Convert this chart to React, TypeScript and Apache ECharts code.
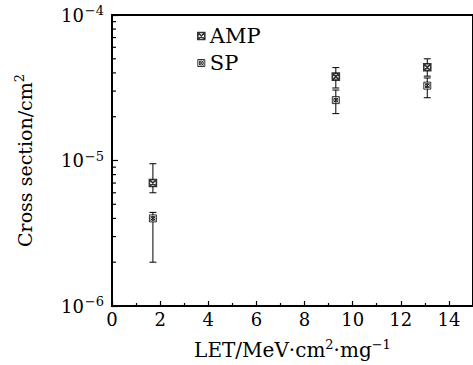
import React, { useEffect, useRef } from "react";
import * as echarts from "echarts";

// LET (MeV·cm²/mg) of each test point
const letValues = [1.7, 9.3, 13.1];
// cross sections (cm²)
const ampValues = [7.0e-6, 3.77e-5, 4.37e-5];
const spValues = [4.0e-6, 2.6e-5, 3.27e-5];
// error bar ranges
const ampLow = [6.0e-6, 3.15e-5, 3.8e-5];
const ampHigh = [9.5e-6, 4.35e-5, 5.0e-5];
const spLow = [2.0e-6, 2.1e-5, 2.7e-5];
const spHigh = [4.4e-6, 3.05e-5, 3.69e-5];
// log minor tick positions on the y axis
const yMinorTicks = [
  2e-6, 3e-6, 4e-6, 5e-6, 6e-6, 7e-6, 8e-6, 9e-6,
  2e-5, 3e-5, 4e-5, 5e-5, 6e-5, 7e-5, 8e-5, 9e-5,
];

const FONT = "'DejaVu Serif', serif";
const AMP_SYMBOL = "path://M0,0L10,0L10,10L0,10Z M0,0L10,10 M10,0L0,10";
const SP_SYMBOL =
  "path://M0,0L10,0L10,10L0,10Z M2,5A3,3 0 1,0 8,5A3,3 0 1,0 2,5 M1.5,1.5L8.5,8.5 M8.5,1.5L1.5,8.5";

function errorRender(params: any, api: any) {
  const x = api.value(0);
  const lo = api.value(1);
  const hi = api.value(2);
  const pHi = api.coord([x, hi]);
  const pLo = api.coord([x, lo]);
  const hw = 3.5;
  const style = { stroke: "#000", lineWidth: 1 };
  return {
    type: "group",
    children: [
      { type: "line", shape: { x1: pHi[0], y1: pHi[1], x2: pLo[0], y2: pLo[1] }, style },
      { type: "line", shape: { x1: pHi[0] - hw, y1: pHi[1], x2: pHi[0] + hw, y2: pHi[1] }, style },
      { type: "line", shape: { x1: pLo[0] - hw, y1: pLo[1], x2: pLo[0] + hw, y2: pLo[1] }, style },
    ],
  };
}

export default function App() {
  const ref = useRef<HTMLDivElement>(null);
  useEffect(() => {
    document.body.style.margin = "0";
    const chart = echarts.init(ref.current!, null, { renderer: "svg" });
    const ampErr = letValues.map((x, i) => [x, ampLow[i], ampHigh[i]]);
    const spErr = letValues.map((x, i) => [x, spLow[i], spHigh[i]]);
    const xNameRich = {
      b: { fontFamily: FONT, fontSize: 20, color: "#000", lineHeight: 24 },
      s: { fontFamily: FONT, fontSize: 13, color: "#000", verticalAlign: "top", lineHeight: 13, padding: [0, 0, 8, 0] },
    };
    const yNameRich = {
      b: { fontFamily: FONT, fontSize: 19, color: "#000", lineHeight: 23 },
      s: { fontFamily: FONT, fontSize: 13, color: "#000", verticalAlign: "top", lineHeight: 13, padding: [0, 0, 8, 0] },
    };
    const tickRich = {
      b: { fontFamily: FONT, fontSize: 18, color: "#000", lineHeight: 22 },
      s: { fontFamily: FONT, fontSize: 13, color: "#000", verticalAlign: "top", lineHeight: 13, padding: [0, 0, 9, 1] },
    };
    chart.setOption({
      animation: false,
      backgroundColor: "#fff",
      textStyle: { fontFamily: FONT },
      grid: {
        left: 112,
        top: 15,
        width: 363,
        height: 291,
        show: true,
        borderColor: "#000",
        borderWidth: 2,
        backgroundColor: "transparent",
      },
      legend: {
        orient: "vertical",
        left: 192,
        top: 19,
        itemWidth: 7,
        itemHeight: 7,
        itemGap: 3,
        textStyle: { fontFamily: FONT, fontSize: 21, color: "#000", lineHeight: 24 },
        data: [
          { name: "AMP", icon: AMP_SYMBOL, itemStyle: { color: "#fff", borderColor: "#000", borderWidth: 1.6 } },
          { name: "SP", icon: SP_SYMBOL, itemStyle: { color: "#fff", borderColor: "#000", borderWidth: 1 } },
        ],
      },
      xAxis: {
        type: "value",
        min: 0,
        max: 15,
        interval: 2,
        name: "{b|LET/MeV·cm}{s|2}{b|·mg}{s|−1}",
        nameLocation: "middle",
        nameGap: 32,
        nameTextStyle: { rich: xNameRich, fontFamily: FONT, fontSize: 20, color: "#000" },
        axisLine: { show: true, lineStyle: { color: "#000", width: 2 } },
        axisTick: { show: true, inside: true, length: 5, lineStyle: { color: "#000", width: 1.2 } },
        minorTick: { show: true, splitNumber: 2, length: 3, lineStyle: { color: "#000", width: 1.2 } },
        splitLine: { show: false },
        axisLabel: {
          fontFamily: FONT,
          fontSize: 18,
          color: "#000",
          margin: 4,
          showMaxLabel: false,
          formatter: (v: number) => (v % 2 === 0 && v <= 14 ? String(v) : ""),
        },
      },
      yAxis: {
        type: "log",
        logBase: 10,
        min: 1e-6,
        max: 1e-4,
        name: "{b|Cross section/cm}{s|2}",
        nameLocation: "middle",
        nameGap: 76,
        nameRotate: 90,
        nameTextStyle: { rich: yNameRich, fontFamily: FONT, fontSize: 19, color: "#000" },
        axisLine: { show: true, lineStyle: { color: "#000", width: 2 } },
        axisTick: { show: true, inside: true, length: 6, lineStyle: { color: "#000", width: 1.2 } },
        splitLine: { show: false },
        axisLabel: {
          margin: 8,
          formatter: (v: number) => `{b|10}{s|−${Math.round(-Math.log10(v))}}`,
          rich: tickRich,
        },
      },
      series: [
        {
          type: "custom",
          name: "yminor",
          silent: true,
          clip: false,
          data: yMinorTicks.map((v) => [0, v]),
          encode: { x: 0, y: 1 },
          renderItem: (params: any, api: any) => {
            const p = api.coord([0, api.value(1)]);
            return {
              type: "line",
              shape: { x1: p[0], y1: p[1], x2: p[0] + 4, y2: p[1] },
              style: { stroke: "#000", lineWidth: 1.2 },
            };
          },
        },
        { type: "custom", name: "ampErr", silent: true, data: ampErr, encode: { x: 0, y: [1, 2] }, renderItem: errorRender },
        { type: "custom", name: "spErr", silent: true, data: spErr, encode: { x: 0, y: [1, 2] }, renderItem: errorRender },
        {
          type: "scatter",
          name: "AMP",
          symbol: AMP_SYMBOL,
          symbolSize: 7,
          itemStyle: { color: "#fff", borderColor: "#000", borderWidth: 1.6 },
          data: letValues.map((x, i) => [x, ampValues[i]]),
          z: 5,
        },
        {
          type: "scatter",
          name: "SP",
          symbol: SP_SYMBOL,
          symbolSize: 7,
          itemStyle: { color: "#fff", borderColor: "#000", borderWidth: 1 },
          data: letValues.map((x, i) => [x, spValues[i]]),
          z: 5,
        },
      ],
    });
    return () => chart.dispose();
  }, []);
  return <div ref={ref} style={{ width: 473, height: 365 }} />;
}
